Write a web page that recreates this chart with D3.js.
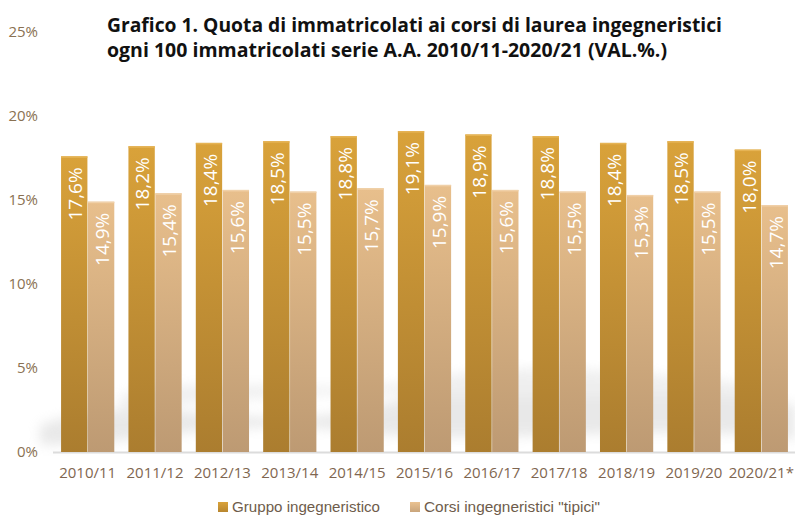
<!DOCTYPE html>
<html><head><meta charset="utf-8">
<script src="https://cdn.jsdelivr.net/npm/d3@7"></script>
<style>body{margin:0;background:#fff}svg{display:block}</style>
</head><body>
<svg id="c" width="795" height="515"></svg>
<script>
const categories = ["2010/11","2011/12","2012/13","2013/14","2014/15","2015/16","2016/17","2017/18","2018/19","2019/20","2020/21*"];
const seriesNames = ["Gruppo ingegneristico","Corsi ingegneristici \"tipici\""];
const gruppo = [17.6,18.2,18.4,18.5,18.8,19.1,18.9,18.8,18.4,18.5,18.0];
const tipici = [14.9,15.4,15.6,15.5,15.7,15.9,15.6,15.5,15.3,15.5,14.7];
const yTicks = [0,5,10,15,20,25];
const titleLines = ["Grafico 1. Quota di immatricolati ai corsi di laurea ingegneristici","ogni 100 immatricolati serie A.A. 2010/11-2020/21 (VAL.%.)"];

const svg = d3.select("#c");
const defs = svg.append("defs");
const g1 = defs.append("linearGradient").attr("id","gA").attr("x1",0).attr("y1",0).attr("x2",0).attr("y2",1);
g1.append("stop").attr("offset","0%").attr("stop-color","#d9a23a");
g1.append("stop").attr("offset","100%").attr("stop-color","#ab7d2f");
const g2 = defs.append("linearGradient").attr("id","gB").attr("x1",0).attr("y1",0).attr("x2",0).attr("y2",1);
g2.append("stop").attr("offset","0%").attr("stop-color","#e8bf8c");
g2.append("stop").attr("offset","100%").attr("stop-color","#bd9a73");
const lg1 = defs.append("linearGradient").attr("id","lA").attr("x1",0).attr("y1",0).attr("x2",0).attr("y2",1);
lg1.append("stop").attr("offset","0%").attr("stop-color","#d9a23a");
lg1.append("stop").attr("offset","100%").attr("stop-color","#b8862f");
const lg2 = defs.append("linearGradient").attr("id","lB").attr("x1",0).attr("y1",0).attr("x2",0).attr("y2",1);
lg2.append("stop").attr("offset","0%").attr("stop-color","#eac291");
lg2.append("stop").attr("offset","100%").attr("stop-color","#c9a57c");
defs.append("filter").attr("id","blur").attr("x","-10%").attr("y","-50%").attr("width","120%").attr("height","200%")
  .append("feGaussianBlur").attr("stdDeviation",6);

const y = d3.scaleLinear().domain([0,25]).range([452,32]);
const x0 = d3.scaleBand().domain(categories).range([54,795]).paddingInner(0.21).paddingOuter(0.105);
const x1 = d3.scaleBand().domain([0,1]).range([0,x0.bandwidth()]).paddingInner(0.02);

// background soft shadow swirl
const sh = svg.append("g").attr("filter","url(#blur)").attr("opacity",0.4);
sh.append("path").attr("d","M40,425 C150,385 250,440 380,405 S600,375 795,405 L795,440 C650,420 500,448 360,432 S150,445 40,445 Z").attr("fill","#c8c8c8");
sh.append("path").attr("d","M120,395 C220,370 320,400 420,380 S620,370 760,385 L760,398 C620,390 500,400 420,395 S220,400 120,410 Z").attr("fill","#d8d8d8");

// baseline
svg.append("line").attr("x1",53).attr("x2",795).attr("y1",y(0)+0.5).attr("y2",y(0)+0.5).attr("stroke","#dcdcdc").attr("stroke-width",2);

// y axis labels
svg.append("g").selectAll("text").data(yTicks).join("text")
  .attr("x",38).attr("y",d=>y(d)).attr("dy","0.35em").attr("text-anchor","end")
  .attr("font-family","Open Sans").attr("font-size",15).attr("fill","#8a7152")
  .text(d=>d+"%");

const data = categories.map((c,i)=>({c, v:[gruppo[i],tipici[i]]}));
const groups = svg.append("g").selectAll("g").data(data).join("g")
  .attr("transform",d=>`translate(${x0(d.c)},0)`);
const fills = ["url(#gA)","url(#gB)"];
const tops = ["#e6b455","#f0d0a8"];
groups.selectAll("rect.bar").data(d=>d.v.map((v,k)=>({v,k}))).join("rect").attr("class","bar")
  .attr("x",d=>x1(d.k)).attr("width",x1.bandwidth())
  .attr("y",d=>y(d.v)).attr("height",d=>y(0)-y(d.v)).attr("fill",d=>fills[d.k]);
groups.selectAll("rect.top").data(d=>d.v.map((v,k)=>({v,k}))).join("rect").attr("class","top")
  .attr("x",d=>x1(d.k)).attr("width",x1.bandwidth())
  .attr("y",d=>y(d.v)).attr("height",1.5).attr("fill",d=>tops[d.k]);
groups.selectAll("text").data(d=>d.v.map((v,k)=>({v,k}))).join("text")
  .attr("transform",d=>`translate(${x1(d.k)+x1.bandwidth()/2+1},${y(d.v)+11}) rotate(-90)`)
  .attr("text-anchor","end").attr("dy","0.36em")
  .attr("font-family","Open Sans").attr("font-size",19).attr("fill","#ffffff")
  .text(d=>d.v.toFixed(1).replace(".",",")+"%");

// x labels
svg.append("g").selectAll("text").data(categories).join("text")
  .attr("x",d=>x0(d)+x0.bandwidth()/2).attr("y",478).attr("text-anchor","middle")
  .attr("font-family","Open Sans").attr("font-size",15).attr("fill","#7f6650")
  .text(d=>d);

// title
const tl = [615,560];
svg.append("g").selectAll("text").data(titleLines).join("text")
  .attr("x",107).attr("y",(d,i)=>32+i*25)
  .attr("font-family","Open Sans").attr("font-weight","bold").attr("font-size",20).attr("fill","#111")
  .attr("textLength",(d,i)=>tl[i]).attr("lengthAdjust","spacingAndGlyphs")
  .text(d=>d);

// legend
const legX = [218,410], legW=[148,176];
const leg = svg.append("g").selectAll("g").data(seriesNames).join("g");
leg.append("rect").attr("x",(d,i)=>legX[i]).attr("y",502).attr("width",10).attr("height",10)
  .attr("fill",(d,i)=>i?"url(#lB)":"url(#lA)");
leg.append("text").attr("x",(d,i)=>legX[i]+14).attr("y",512)
  .attr("font-family","Liberation Sans").attr("font-size",15).attr("fill","#6e5c4b")
  .attr("textLength",(d,i)=>legW[i]).attr("lengthAdjust","spacingAndGlyphs")
  .text(d=>d);
</script>
</body></html>
